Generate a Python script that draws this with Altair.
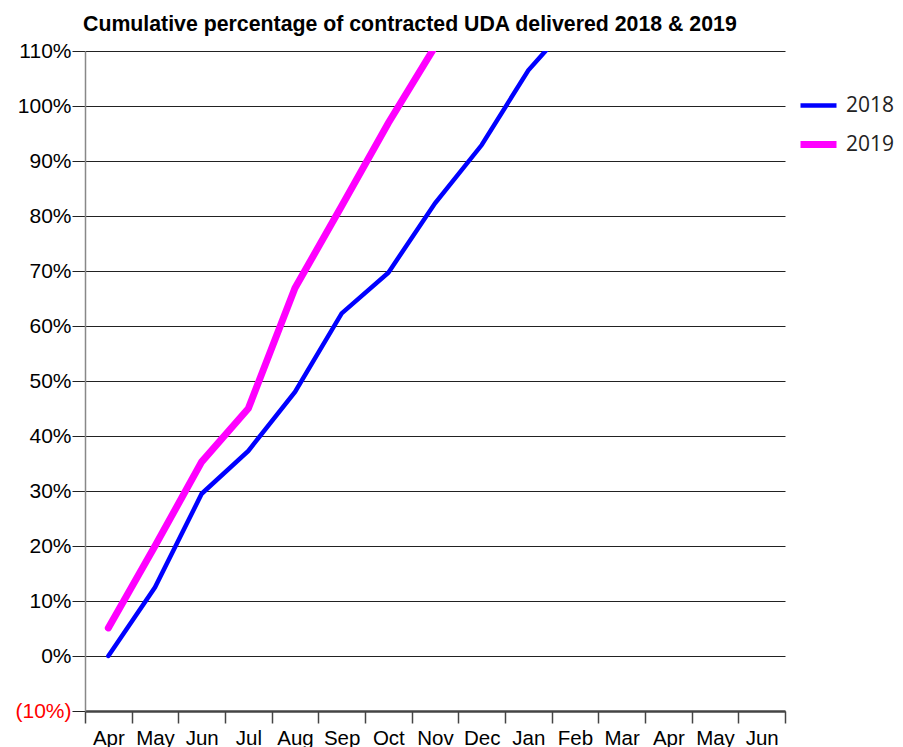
import altair as alt
import pandas as pd

months = ["Apr", "May", "Jun", "Jul", "Aug", "Sep", "Oct", "Nov",
          "Dec", "Jan", "Feb", "Mar", "Apr", "May", "Jun"]
pct_2018 = [0.0, 12.5, 29.5, 37.3, 48.0, 62.3, 69.7, 82.3, 92.9, 106.5, 116.0]
pct_2019 = [5.1, 20.0, 35.3, 45.0, 66.9, 81.8, 96.9, 110.8]
series = ["2018", "2019"]
y_ticks = list(range(-10, 111, 10))

keys = [f"{i:02d}" for i in range(len(months))]
rows = []
for s, vals in zip(series, [pct_2018, pct_2019]):
    for i, v in enumerate(vals):
        rows.append({"key": keys[i], "month": months[i], "series": s, "pct": v})
df = pd.DataFrame(rows)

month_arr = "[" + ",".join(f"'{m}'" for m in months) + "]"

font = "Liberation Sans"

def legend():
    return alt.Legend(title=None, orient="none", legendX=712, legendY=34,
                      symbolType="stroke", symbolSize=1296,
                      labelFont="Open Sans", labelFontSize=21, labelColor="#222",
                      labelOffset=6, rowPadding=7)

chart = alt.Chart(df).mark_line(clip=True, strokeCap="round", strokeJoin="miter").encode(
    x=alt.X("key:O",
            scale=alt.Scale(type="band", domain=keys, paddingInner=0, paddingOuter=0),
            bandPosition=0.5,
            axis=alt.Axis(title=None, tickBand="extent", labelExpr=f"{month_arr}[toNumber(datum.value)]",
                          labelAngle=0, labelFont=font, labelFontSize=20.5, labelColor="black",
                          labelPadding=5, tickSize=12, tickColor="#444", tickWidth=1.5,
                          domainColor="#444", domainWidth=2.5, grid=False)),
    y=alt.Y("pct:Q",
            scale=alt.Scale(domain=[-10, 110], nice=False, zero=False),
            axis=alt.Axis(title=None, values=y_ticks,
                          labelExpr="datum.value < 0 ? '(' + abs(datum.value) + '%)' : datum.value + '%'",
                          labelColor={"expr": "datum.value < 0 ? '#ff0000' : 'black'"},
                          labelFont=font, labelFontSize=21, labelPadding=1,
                          tickSize=13, tickColor="#222", tickWidth=1,
                          domainColor="#888", domainWidth=1.5,
                          grid=True, gridColor="#222", gridWidth=1)),
    color=alt.Color("series:N",
                    scale=alt.Scale(domain=series, range=["#0000ff", "#ff00ff"]),
                    legend=legend()),
    strokeWidth=alt.StrokeWidth("series:N",
                                scale=alt.Scale(domain=series, range=[4.5, 7]),
                                legend=legend()),
).properties(
    width=700,
    height=660,
    title=alt.TitleParams("Cumulative percentage of contracted UDA delivered 2018 & 2019",
                          anchor="start", frame="group", font=font, fontSize=21.3,
                          fontWeight="bold", color="black", offset=5, dx=-2),
    autosize=alt.AutoSizeParams(type="none"),
    padding={"left": 77, "top": 43, "right": 110, "bottom": 36},
).configure_view(stroke=None)

chart.save("out.html", embed_options={"renderer": "svg", "actions": False})
